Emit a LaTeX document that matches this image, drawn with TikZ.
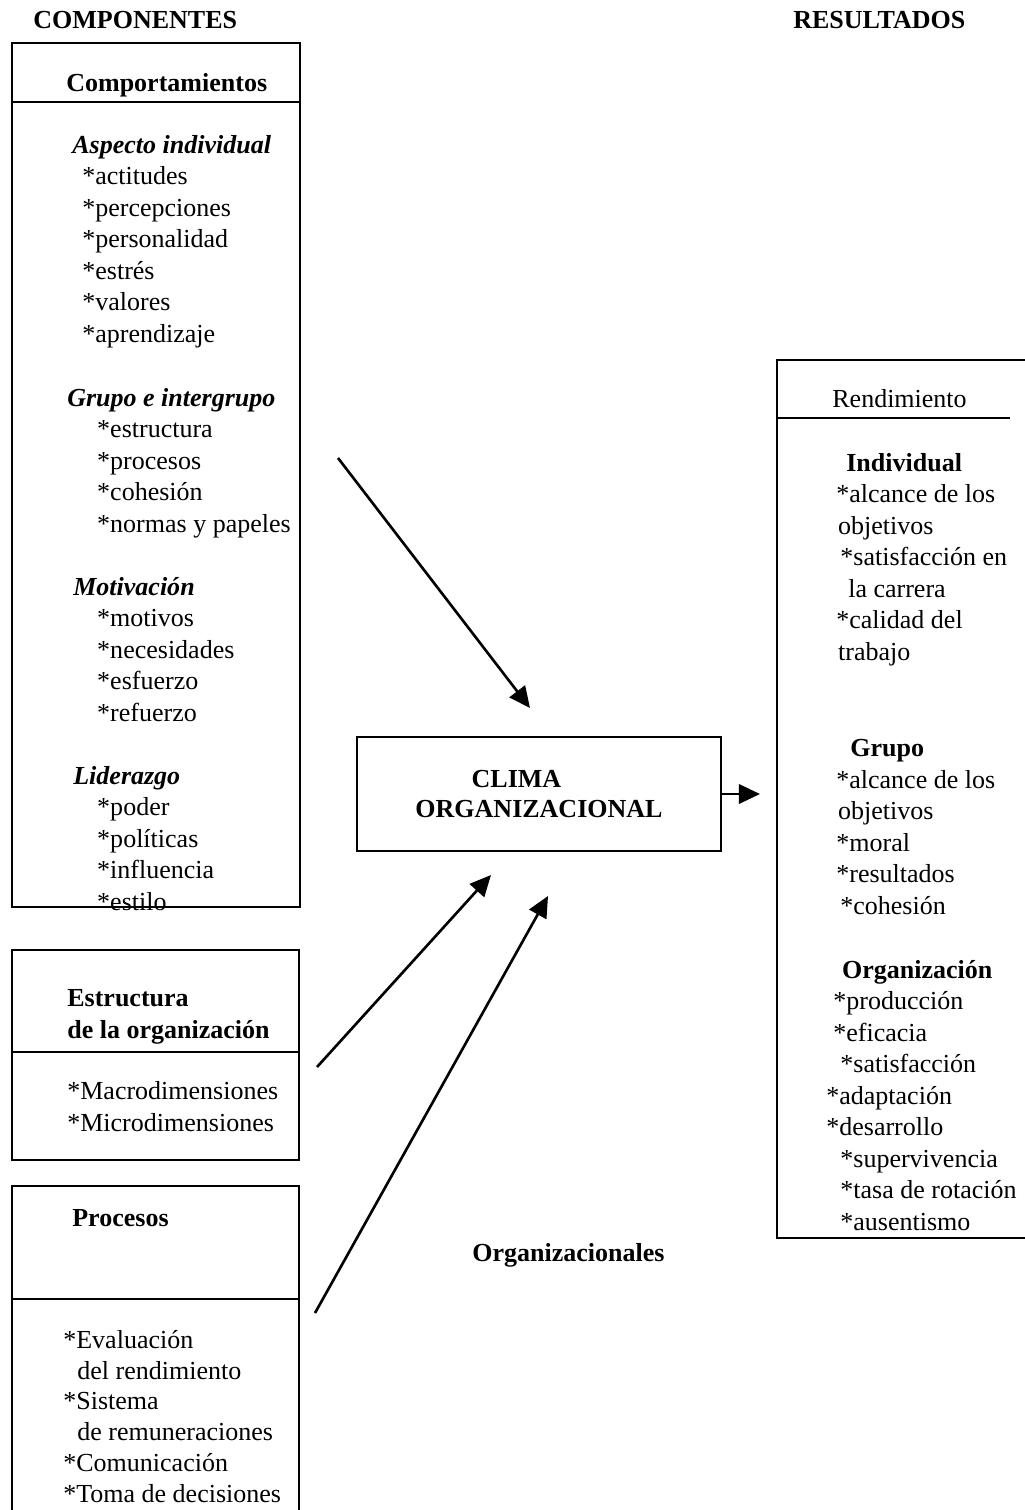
\documentclass[tikz,border=0pt]{standalone}
\usepackage{fontspec}
\setmainfont{Liberation Serif}
\usetikzlibrary{positioning, arrows.meta}

\tikzset{
  txt/.style={inner sep=0pt, anchor=base west, align=left,
              font=\fontsize{14.8}{17.9}\selectfont},
  titulo/.style={txt, font=\fontsize{14.8}{17.9}\selectfont\bfseries},
  caja/.style={line width=0.9pt, black},
  flecha/.style={line width=1.5pt, black, -{Triangle[length=12pt,width=11pt]}}
}

\begin{document}
\begin{tikzpicture}[x=0.02cm, y=-0.02cm]
  \useasboundingbox (0,0) rectangle (1024,1510);

  % titulos
  \node[titulo] (componentes) at (33,29) {COMPONENTES};
  \node[titulo] (resultados) at (793,29) {RESULTADOS};

  % comportamientos
  \draw[caja] (12,43) rectangle (300,907);
  \draw[caja] (12,102) -- (300,102);
  \node[titulo] (comport) at (66,92) {Comportamientos};
  \node[txt] (individual) at (72,342) {\textbf{\textit{Aspecto individual}}\\
      \hspace*{5.7pt}*actitudes\\ \hspace*{5.7pt}*percepciones\\
      \hspace*{5.7pt}*personalidad\\ \hspace*{5.7pt}*estrés\\
      \hspace*{5.7pt}*valores\\ \hspace*{5.7pt}*aprendizaje};
  \node[txt] (grupo) at (67,532) {\textbf{\textit{Grupo e intergrupo}}\\
      \hspace*{17pt}*estructura\\ \hspace*{17pt}*procesos\\
      \hspace*{17pt}*cohesión\\ \hspace*{17pt}*normas y papeles};
  \node[txt] (motivacion) at (73,721) {\textbf{\textit{Motivación}}\\
      \hspace*{13.6pt}*motivos\\ \hspace*{13.6pt}*necesidades\\
      \hspace*{13.6pt}*esfuerzo\\ \hspace*{13.6pt}*refuerzo};
  \node[txt] (liderazgo) at (73,910) {\textbf{\textit{Liderazgo}}\\
      \hspace*{13.6pt}*poder\\ \hspace*{13.6pt}*políticas\\
      \hspace*{13.6pt}*influencia\\ \hspace*{13.6pt}*estilo};

  % estructura
  \draw[caja] (12,950) rectangle (299,1160);
  \draw[caja] (12,1052) -- (299,1052);
  \node[titulo] (estructura) at (67,1038) {Estructura\\de la organización};
  \node[txt] (dimensiones) at (67,1131) {*Macrodimensiones\\*Microdimensiones};

  % procesos
  \draw[caja] (12,1186) rectangle (299,1530);
  \draw[caja] (12,1299) -- (299,1299);
  \node[titulo] (procesos) at (72,1226) {Procesos};
  \node[txt, font=\fontsize{14.8}{17.5}\selectfont] (listaproc) at (63,1502)
      {*Evaluación\\ \hspace*{8pt}del rendimiento\\
      *Sistema\\ \hspace*{8pt}de remuneraciones\\ *Comunicación\\ *Toma de decisiones};

  % clima
  \node[caja, draw, minimum width=7.28cm, minimum height=2.28cm, align=left,
        font=\fontsize{14.8}{17.4}\selectfont\bfseries] (clima) at (539,794)
        {\hspace*{32pt}CLIMA\\ORGANIZACIONAL};
  \node[titulo] (organizacionales) at (472,1261) {Organizacionales};

  % rendimiento
  \draw[caja] (1040,360) -- (777,360) -- (777,1238) -- (1040,1238);
  \draw[caja] (777,418) -- (1010,418);
  \node[txt] (rendimiento) at (832,407) {Rendimiento};
  \node[txt] (indiv) at (836,660) {\hspace*{5.7pt}\textbf{Individual}\\
      *alcance de los\\ \hspace*{1pt}objetivos\\ \hspace*{2.3pt}*satisfacción en\\
      \hspace*{6.8pt}la carrera\\ *calidad del\\ \hspace*{1pt}trabajo};
  \node[txt] (grp) at (836,914) {\hspace*{8pt}\textbf{Grupo}\\
      *alcance de los\\ \hspace*{1pt}objetivos\\ *moral\\ *resultados\\
      \hspace*{2.3pt}*cohesión};
  \node[txt] (organiz) at (826,1230) {\hspace*{9pt}\textbf{Organización}\\
      \hspace*{4pt}*producción\\ \hspace*{4pt}*eficacia\\ \hspace*{8pt}*satisfacción\\
      *adaptación\\ *desarrollo\\ \hspace*{8pt}*supervivencia\\
      \hspace*{8pt}*tasa de rotación\\ \hspace*{8pt}*ausentismo};

  % flechas
  \coordinate (f1a) at (338,458);
  \coordinate (f1b) at (530,708);
  \coordinate (f2a) at (317,1067);
  \coordinate (f2b) at (491,875);
  \coordinate (f3a) at (315,1313);
  \coordinate (f3b) at (548,896);
  \coordinate (fsal) at (760,794);
  \draw[flecha] (f1a) -- (f1b);
  \draw[flecha] (f2a) -- (f2b);
  \draw[flecha] (f3a) -- (f3b);
  \draw[flecha] (clima.east) -- (fsal);

\end{tikzpicture}
\end{document}
